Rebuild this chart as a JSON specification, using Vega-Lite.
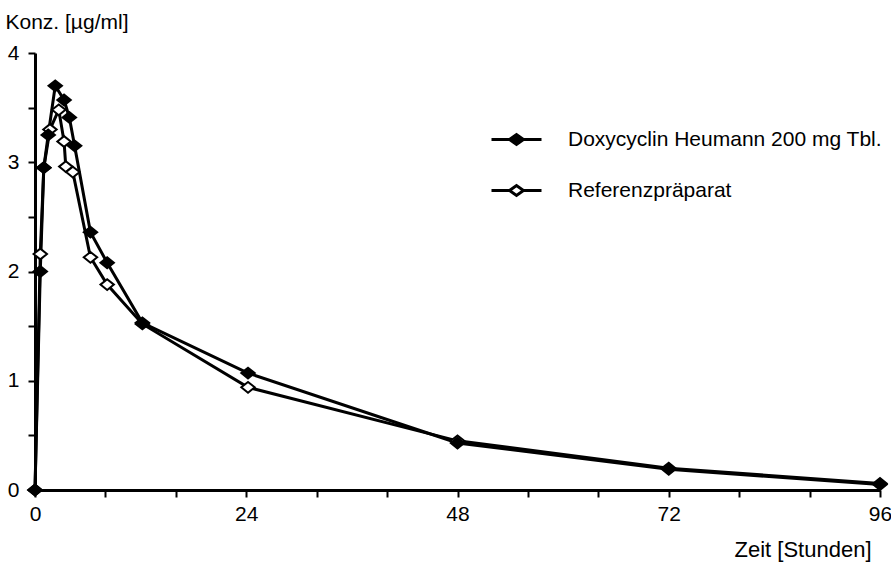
{
  "$schema": "https://vega.github.io/schema/vega-lite/v6.json",
  "width": 845,
  "height": 437,
  "autosize": "none",
  "padding": {"left": 35, "top": 53, "right": 11, "bottom": 74},
  "background": "white",
  "config": {
    "view": {"stroke": null},
    "font": "Liberation Sans"
  },
  "data": {
    "values": [
      {"series": "Referenzpräparat", "t": 0, "c": 0},
      {"series": "Referenzpräparat", "t": 0.6, "c": 2.16},
      {"series": "Referenzpräparat", "t": 1.0, "c": 2.95},
      {"series": "Referenzpräparat", "t": 1.7, "c": 3.30},
      {"series": "Referenzpräparat", "t": 2.7, "c": 3.48},
      {"series": "Referenzpräparat", "t": 3.3, "c": 3.19},
      {"series": "Referenzpräparat", "t": 3.5, "c": 2.96},
      {"series": "Referenzpräparat", "t": 4.3, "c": 2.91},
      {"series": "Referenzpräparat", "t": 6.3, "c": 2.13},
      {"series": "Referenzpräparat", "t": 8.2, "c": 1.88},
      {"series": "Referenzpräparat", "t": 12.2, "c": 1.52},
      {"series": "Referenzpräparat", "t": 24.2, "c": 0.94},
      {"series": "Referenzpräparat", "t": 48, "c": 0.45},
      {"series": "Referenzpräparat", "t": 72, "c": 0.20},
      {"series": "Referenzpräparat", "t": 96, "c": 0.06},
      {"series": "Doxycyclin Heumann 200 mg Tbl.", "t": 0, "c": 0},
      {"series": "Doxycyclin Heumann 200 mg Tbl.", "t": 0.6, "c": 2.0},
      {"series": "Doxycyclin Heumann 200 mg Tbl.", "t": 1.0, "c": 2.95},
      {"series": "Doxycyclin Heumann 200 mg Tbl.", "t": 1.5, "c": 3.25},
      {"series": "Doxycyclin Heumann 200 mg Tbl.", "t": 2.3, "c": 3.70},
      {"series": "Doxycyclin Heumann 200 mg Tbl.", "t": 3.3, "c": 3.57},
      {"series": "Doxycyclin Heumann 200 mg Tbl.", "t": 3.9, "c": 3.41},
      {"series": "Doxycyclin Heumann 200 mg Tbl.", "t": 4.5, "c": 3.15},
      {"series": "Doxycyclin Heumann 200 mg Tbl.", "t": 6.3, "c": 2.36},
      {"series": "Doxycyclin Heumann 200 mg Tbl.", "t": 8.2, "c": 2.08},
      {"series": "Doxycyclin Heumann 200 mg Tbl.", "t": 12.2, "c": 1.53},
      {"series": "Doxycyclin Heumann 200 mg Tbl.", "t": 24.2, "c": 1.07},
      {"series": "Doxycyclin Heumann 200 mg Tbl.", "t": 48, "c": 0.43},
      {"series": "Doxycyclin Heumann 200 mg Tbl.", "t": 72, "c": 0.19},
      {"series": "Doxycyclin Heumann 200 mg Tbl.", "t": 96, "c": 0.05}
    ]
  },
  "layer": [
    {
      "mark": {"type": "line", "color": "black", "strokeWidth": 3},
      "encoding": {
        "x": {
          "field": "t",
          "type": "quantitative",
          "scale": {"domain": [0, 96], "nice": false, "zero": false},
          "axis": {
            "title": "Zeit [Stunden]",
            "titleFont": "Liberation Sans",
            "titleFontSize": 22,
            "titleFontWeight": "normal",
            "titleColor": "black",
            "titleAlign": "right",
            "titleBaseline": "middle",
            "titleAnchor": null,
            "titleX": 836,
            "titleY": 59,
            "values": [0,4,8,12,16,20,24,28,32,36,40,44,48,52,56,60,64,68,72,76,80,84,88,92,96],
            "labelExpr": "datum.value % 24 === 0 ? datum.label : ''",
            "labelFont": "Liberation Sans",
            "labelFontSize": 21,
            "labelColor": "black",
            "labelPadding": 6,
            "labelFlush": false,
            "labelOverlap": false,
            "grid": false,
            "domainColor": "black",
            "domainWidth": 3,
            "ticks": true,
            "tickColor": "#000000",
            "tickWidth": 2,
            "tickSize": 7
          }
        },
        "y": {
          "field": "c",
          "type": "quantitative",
          "scale": {"domain": [0, 4], "nice": false},
          "axis": {
            "title": "Konz. [µg/ml]",
            "titleFont": "Liberation Sans",
            "titleFontSize": 21,
            "titleFontWeight": "normal",
            "titleColor": "black",
            "titleAngle": 0,
            "titleAlign": "left",
            "titleBaseline": "middle",
            "titleAnchor": null,
            "titleX": -30,
            "titleY": -31,
            "values": [0,0.25,0.5,0.75,1,1.25,1.5,1.75,2,2.25,2.5,2.75,3,3.25,3.5,3.75,4],
            "labelExpr": "datum.value % 1 === 0 ? format(datum.value, 'd') : ''",
            "labelFont": "Liberation Sans",
            "labelFontSize": 21,
            "labelColor": "black",
            "labelPadding": 9,
            "labelFlush": false,
            "labelOverlap": false,
            "grid": false,
            "domainColor": "black",
            "domainWidth": 3,
            "ticks": true,
            "tickColor": "#000000",
            "tickWidth": 2,
            "tickSize": 7
          }
        },
        "detail": {"field": "series"}
      }
    },
    {
      "mark": {"type": "point", "shape": "M-1,0L0,-0.8L1,0L0,0.8Z", "size": 180, "stroke": "black", "strokeWidth": 2, "opacity": 1},
      "encoding": {
        "x": {"field": "t", "type": "quantitative"},
        "y": {"field": "c", "type": "quantitative"},
        "fill": {
          "field": "series",
          "type": "nominal",
          "scale": {"domain": ["Doxycyclin Heumann 200 mg Tbl.", "Referenzpräparat"], "range": ["black", "white"]},
          "legend": {
            "title": null,
            "orient": "none",
            "legendX": 470,
            "legendY": 75,
            "symbolType": "M-2.5,0L-0.7,0M0.7,0L2.5,0M-0.7,0L0,-0.5L0.7,0L0,0.5Z",
            "symbolSize": 400,
            "symbolStrokeColor": "black",
            "symbolStrokeWidth": 3,
            "symbolOpacity": 1,
            "labelFont": "Liberation Sans",
            "labelFontSize": 21,
            "labelColor": "black",
            "labelOffset": 40,
            "labelLimit": 400,
            "rowPadding": 28,
            "padding": 0
          }
        }
      }
    }
  ]
}
